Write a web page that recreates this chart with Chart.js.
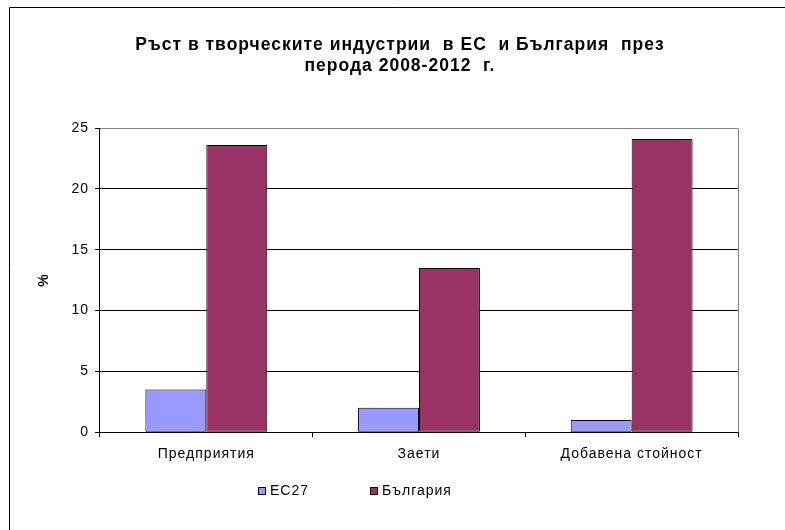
<!DOCTYPE html>
<html>
<head>
<meta charset="utf-8">
<script src="https://cdn.jsdelivr.net/npm/chart.js@4/dist/chart.umd.min.js"></script>
<style>
  html, body { margin: 0; padding: 0; background: #fff; }
  #wrap { width: 785px; height: 530px; }
</style>
</head>
<body>
<div id="wrap"><canvas id="chart" width="785" height="530"></canvas></div>
<script>
// --- data ---
const categories = ['Предприятия', 'Заети', 'Добавена стойност'];
const seriesNames = ['ЕС27', 'България'];
const euValues = [3.5, 2.0, 1.0];
const bgValues = [23.6, 13.5, 24.1];
const yMax = 25;
const yStep = 5;
const titleLines = ['Ръст в творческите индустрии  в ЕС  и България  през', 'перода 2008-2012  г.'];
const yTitle = '%';

const COLORS = ['#9999FF', '#993366'];
const FONT = 'Liberation Sans, Arial, sans-serif';

// excel-ish text spacing, frame, gray plot border, custom legend
const excelLook = {
  id: 'excelLook',
  beforeLayout(chart) { chart.ctx.letterSpacing = '1px'; },
  beforeDraw(chart) { chart.ctx.letterSpacing = '1px'; },
  afterLayout(chart) {
    // title is centred a bit to the right of the layout box
    const t = chart.titleBlock;
    if (t) { t.left += 21; t.right += 21; }
  },
  afterDraw(chart) {
    const ctx = chart.ctx;
    const a = chart.chartArea;
    ctx.save();
    // outer chart frame
    ctx.strokeStyle = '#000';
    ctx.lineWidth = 1;
    ctx.beginPath();
    ctx.moveTo(9.5, 530);
    ctx.lineTo(9.5, 7.5);
    ctx.lineTo(785, 7.5);
    ctx.stroke();
    // gray top / right of plot area
    ctx.strokeStyle = '#808080';
    ctx.beginPath();
    ctx.moveTo(Math.round(a.left) + 0.5, Math.round(a.top) + 0.5);
    ctx.lineTo(Math.round(a.right) + 0.5, Math.round(a.top) + 0.5);
    ctx.lineTo(Math.round(a.right) + 0.5, Math.round(a.bottom) + 0.5);
    ctx.stroke();
    // legend
    ctx.font = '14px ' + FONT;
    ctx.textBaseline = 'middle';
    ctx.textAlign = 'left';
    let x = 258;
    const y = 491;
    chart.data.datasets.forEach(ds => {
      ctx.fillStyle = ds.backgroundColor;
      ctx.fillRect(x, y - 4, 8, 8);
      ctx.strokeStyle = '#000';
      ctx.strokeRect(x + 0.5, y - 3.5, 7, 7);
      ctx.fillStyle = '#000';
      ctx.fillText(ds.label, x + 12, y);
      x += 12 + ctx.measureText(ds.label).width + 61;
    });
    ctx.restore();
  }
};

const ctx = document.getElementById('chart').getContext('2d');
new Chart(ctx, {
  type: 'bar',
  data: {
    labels: categories,
    datasets: [
      { label: seriesNames[0], data: euValues, backgroundColor: COLORS[0] },
      { label: seriesNames[1], data: bgValues, backgroundColor: COLORS[1] }
    ]
  },
  options: {
    responsive: false,
    animation: false,
    devicePixelRatio: 1,
    layout: { padding: { left: 20, right: 47, top: 0, bottom: 58 } },
    datasets: {
      bar: {
        borderColor: '#000',
        borderWidth: 1,
        borderSkipped: false,
        categoryPercentage: 0.573,
        barPercentage: 1
      }
    },
    plugins: {
      legend: { display: false },
      tooltip: { enabled: false },
      title: {
        display: true,
        text: titleLines,
        color: '#000',
        font: { family: FONT, size: 17.5, weight: 'bold', lineHeight: 1.2 },
        padding: { top: 34.5, bottom: 51.5 }
      }
    },
    scales: {
      x: {
        grid: { offset: true, drawOnChartArea: false, drawTicks: true, tickLength: 5, color: '#000' },
        border: { color: '#000', width: 1 },
        ticks: { color: '#000', padding: 9, font: { family: FONT, size: 14 }, maxRotation: 0 }
      },
      y: {
        min: 0,
        max: yMax,
        grid: {
          color: c => (c.tick && c.tick.value === yMax ? '#808080' : '#000'),
          tickColor: '#000',
          tickLength: 5
        },
        border: { color: '#000', width: 1 },
        ticks: { stepSize: yStep, color: '#000', padding: 6, font: { family: FONT, size: 14 } },
        title: {
          display: true,
          text: yTitle,
          color: '#000',
          font: { family: FONT, size: 14, weight: 'bold' },
          padding: { top: 15.6, bottom: 13 }
        }
      }
    }
  },
  plugins: [excelLook]
});
</script>
</body>
</html>
